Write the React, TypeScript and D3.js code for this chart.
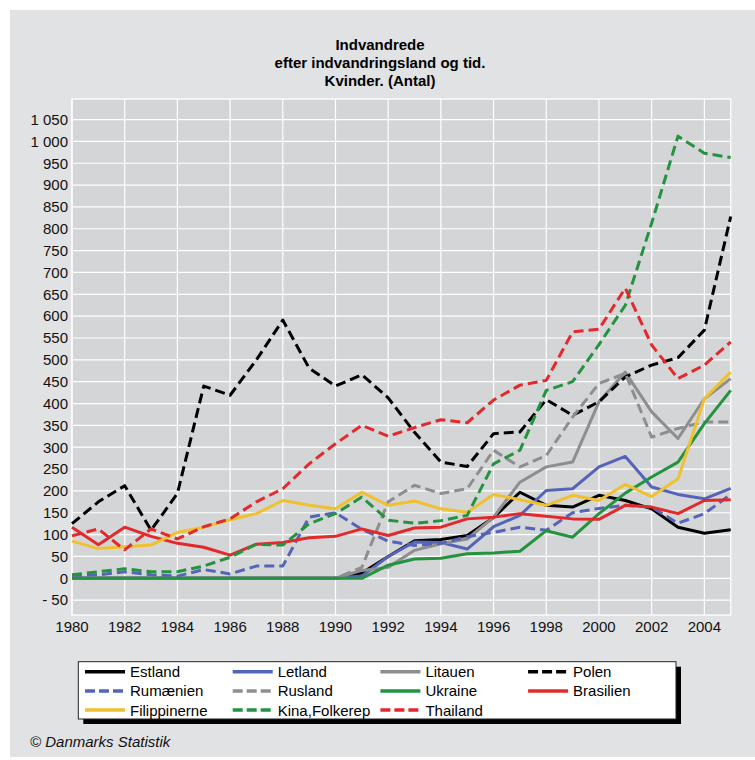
import React from "react";
import * as d3 from "d3";

// years on the x axis
const years = [
  1980, 1981, 1982, 1983, 1984, 1985, 1986, 1987, 1988, 1989, 1990, 1991, 1992,
  1993, 1994, 1995, 1996, 1997, 1998, 1999, 2000, 2001, 2002, 2003, 2004, 2005,
];

// values (women, count)
const estland = [0, 0, 0, 0, 0, 0, 0, 0, 0, 0, 0, 12, 50, 86, 89, 98, 139, 197, 167, 163, 190, 178, 159, 117, 103, 111];
const letland = [0, 0, 0, 0, 0, 0, 0, 0, 0, 0, 0, 5, 50, 83, 82, 67, 118, 144, 201, 205, 255, 279, 209, 192, 182, 206];
const litauen = [0, 0, 0, 0, 0, 0, 0, 0, 0, 0, 0, 18, 25, 64, 79, 90, 140, 220, 255, 266, 404, 472, 381, 320, 411, 457];
const polen = [125, 175, 212, 110, 194, 440, 419, 500, 591, 481, 440, 466, 413, 334, 266, 256, 331, 335, 409, 373, 404, 461, 488, 505, 568, 828];
const rumaenien = [5, 8, 15, 8, 5, 20, 10, 28, 28, 140, 150, 112, 85, 75, 80, 95, 105, 117, 110, 150, 160, 167, 163, 126, 148, 192];
const rusland = [0, 0, 0, 0, 0, 0, 0, 0, 0, 0, 0, 25, 175, 213, 194, 205, 293, 255, 281, 369, 446, 469, 323, 343, 358, 358];
const ukraine = [0, 0, 0, 0, 0, 0, 0, 0, 0, 0, 0, 0, 30, 44, 46, 56, 58, 62, 109, 94, 148, 195, 232, 266, 354, 430];
const brasilien = [117, 77, 117, 96, 80, 71, 53, 78, 82, 93, 96, 113, 98, 115, 117, 136, 140, 148, 142, 136, 135, 167, 163, 148, 178, 180];
const filippinerne = [85, 68, 72, 76, 105, 117, 134, 148, 178, 167, 159, 197, 167, 177, 159, 151, 192, 180, 167, 190, 178, 215, 187, 228, 411, 472];
const kina = [8, 15, 22, 15, 15, 28, 48, 78, 76, 125, 148, 186, 133, 126, 132, 144, 262, 293, 430, 450, 535, 625, 813, 1012, 973, 963];
const thailand = [97, 113, 65, 113, 90, 118, 136, 175, 205, 262, 308, 350, 325, 345, 363, 356, 408, 442, 453, 564, 570, 664, 534, 457, 488, 541];

const xTicks = [1980, 1982, 1984, 1986, 1988, 1990, 1992, 1994, 1996, 1998, 2000, 2002, 2004];
const yTicks = [-50, 0, 50, 100, 150, 200, 250, 300, 350, 400, 450, 500, 550, 600, 650, 700, 750, 800, 850, 900, 950, 1000, 1050];

const titleLines = ["Indvandrede", "efter indvandringsland og tid.", "Kvinder. (Antal)"];

const series = [
  { name: "Estland", values: estland, color: "#000000", dashed: false },
  { name: "Letland", values: letland, color: "#5564b9", dashed: false },
  { name: "Litauen", values: litauen, color: "#8e8e90", dashed: false },
  { name: "Polen", values: polen, color: "#000000", dashed: true },
  { name: "Rumænien", values: rumaenien, color: "#5564b9", dashed: true },
  { name: "Rusland", values: rusland, color: "#8e8e90", dashed: true },
  { name: "Ukraine", values: ukraine, color: "#23933f", dashed: false },
  { name: "Brasilien", values: brasilien, color: "#e2292b", dashed: false },
  { name: "Filippinerne", values: filippinerne, color: "#f0c12e", dashed: false },
  { name: "Kina,Folkerep", values: kina, color: "#23933f", dashed: true },
  { name: "Thailand", values: thailand, color: "#e2292b", dashed: true },
];

const FONT = "'Liberation Sans', Arial, sans-serif";
const W = 755;
const H = 760;
const plot = { left: 72, right: 730.7, top: 99, bottom: 615 };

const x = d3.scaleLinear().domain([1980, 2005]).range([plot.left, plot.right]);
const y = d3.scaleLinear().domain([-84, 1097]).range([plot.bottom, plot.top]);

const fmt = d3.formatLocale({
  decimal: ",",
  thousands: " ",
  grouping: [3],
  currency: ["", ""],
  minus: "- ",
}).format(",d");

const LegendItem = ({ s, i }) => {
  const col = i % 4;
  const row = Math.floor(i / 4);
  const lx = 85 + col * 147.7;
  const ly = 671.7 + row * 19.2;
  return (
    <g>
      <line
        x1={lx}
        x2={lx + 40}
        y1={ly}
        y2={ly}
        stroke={s.color}
        strokeWidth={3.5}
        strokeDasharray={s.dashed ? "10 4" : null}
      />
      <text x={lx + 45} y={ly + 5.5} fontSize="15" fill="#000">
        {s.name}
      </text>
    </g>
  );
};

export default function App() {
  const line = d3
    .line<number>()
    .x((d, i) => x(years[i]))
    .y((d) => y(d));

  return (
    <div style={{ position: "absolute", left: 0, top: 0 }}>
      <svg width={W} height={H} fontFamily={FONT} style={{ display: "block" }}>
        <rect x={0} y={0} width={W} height={H} fill="#ffffff" />
        <rect x={10} y={10} width={W - 10} height={747} fill="#e1e2e4" />

        {/* title */}
        {titleLines.map((t, i) => (
          <text
            key={i}
            x={380}
            y={50 + i * 18}
            textAnchor="middle"
            fontSize="15"
            fontWeight="bold"
          >
            {t}
          </text>
        ))}

        {/* plot area */}
        <rect
          x={plot.left}
          y={plot.top}
          width={plot.right - plot.left}
          height={plot.bottom - plot.top}
          fill="#d4d5d7"
          stroke="#ffffff"
          strokeWidth={1.3}
        />
        {yTicks.map((v) => (
          <line
            key={"h" + v}
            x1={plot.left}
            x2={plot.right}
            y1={y(v)}
            y2={y(v)}
            stroke="#ffffff"
            strokeWidth={1.2}
          />
        ))}
        {xTicks.map((v) => (
          <line
            key={"v" + v}
            x1={x(v)}
            x2={x(v)}
            y1={plot.top}
            y2={plot.bottom}
            stroke="#ffffff"
            strokeWidth={1.2}
          />
        ))}

        {/* axis labels */}
        {yTicks.map((v) => (
          <text key={"yl" + v} x={68} y={y(v) + 5.3} textAnchor="end" fontSize="15" fill="#111">
            {fmt(v)}
          </text>
        ))}
        {xTicks.map((v) => (
          <text key={"xl" + v} x={x(v)} y={631.5} textAnchor="middle" fontSize="15" fill="#111">
            {v}
          </text>
        ))}

        {/* series */}
        {series.map((s) => (
          <path
            key={s.name}
            d={line(s.values)}
            fill="none"
            stroke={s.color}
            strokeWidth={3}
            strokeDasharray={s.dashed ? "10 5" : null}
            strokeLinejoin="round"
          />
        ))}

        {/* legend */}
        <rect x={83.3} y={666.7} width={597.7} height={57.3} fill="#000" />
        <rect x={78.3} y={661.7} width={597.7} height={57.3} fill="#fff" stroke="#222" strokeWidth={1} />
        {series.map((s, i) => (
          <LegendItem key={s.name} s={s} i={i} />
        ))}

        <text x={30} y={747} fontSize="15" fontStyle="italic" fill="#111">
          © Danmarks Statistik
        </text>
      </svg>
    </div>
  );
}
